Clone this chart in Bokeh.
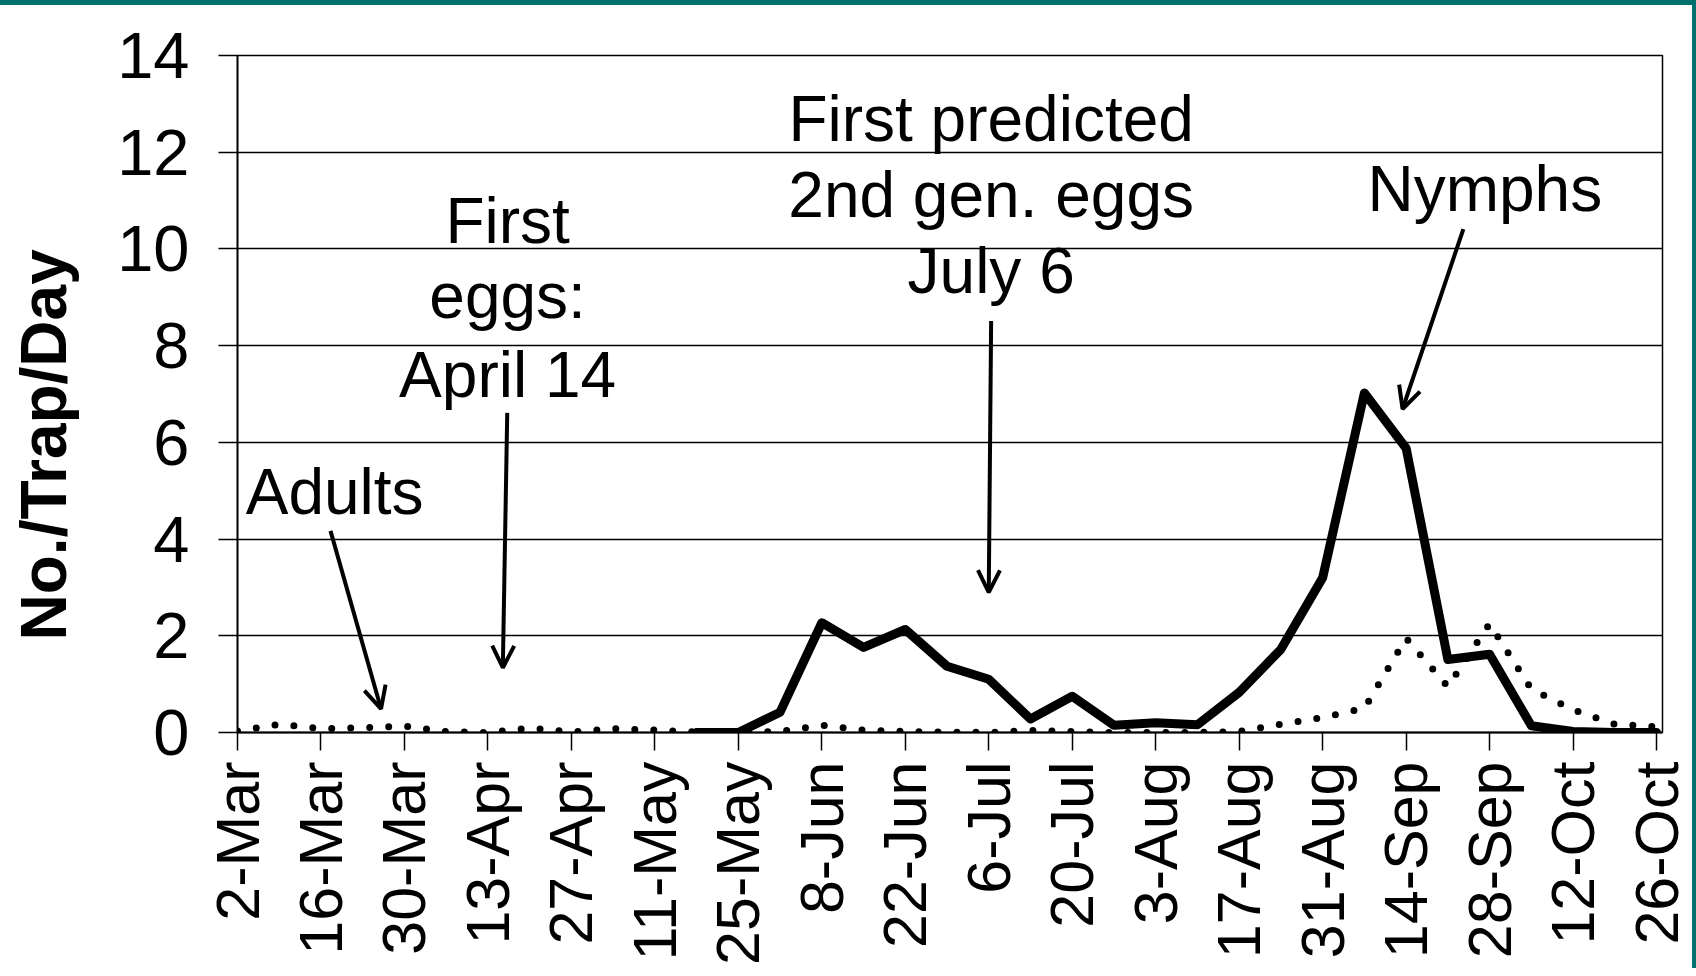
import math
from datetime import datetime
from bokeh.plotting import figure
from bokeh.models import (FixedTicker, Label, Arrow, OpenHead, Range1d,
                          ColumnDataSource, Div)
from bokeh.layouts import column, row
from bokeh.embed import file_html
from bokeh.resources import INLINE

YEAR = 2023
FONT = "Liberation Sans"
TEAL = "#00706F"

# ---- data ----
sample_dates = ["2-Mar", "9-Mar", "16-Mar", "23-Mar", "30-Mar",
                "6-Apr", "13-Apr", "20-Apr", "27-Apr",
                "4-May", "11-May", "18-May", "25-May",
                "1-Jun", "8-Jun", "15-Jun", "22-Jun", "29-Jun",
                "6-Jul", "13-Jul", "20-Jul", "27-Jul",
                "3-Aug", "10-Aug", "17-Aug", "24-Aug", "31-Aug",
                "7-Sep", "14-Sep", "21-Sep", "28-Sep",
                "5-Oct", "12-Oct", "19-Oct", "26-Oct"]

adults = [0.03, 0.17, 0.08, 0.10, 0.13,
          0.02, 0.00, 0.09, 0.01,
          0.08, 0.05, 0.01, 0.00,
          0.02, 0.15, 0.05, 0.02, 0.01,
          0.00, 0.04, 0.02, 0.00,
          0.00, 0.00, 0.02, 0.17, 0.31,
          0.50, 1.95, 0.95, 2.25,
          0.90, 0.47, 0.17, 0.12]

nan = float("nan")
nymphs = [nan, nan, nan, nan, nan,
          nan, nan, nan, nan,
          nan, nan, 0.00, 0.00,
          0.42, 2.27, 1.76, 2.13, 1.37,
          1.10, 0.28, 0.75, 0.15,
          0.20, 0.16, 0.83, 1.72, 3.20,
          7.02, 5.88, 1.51, 1.62,
          0.14, 0.02, 0.00, 0.00]

tick_labels = ["2-Mar", "16-Mar", "30-Mar", "13-Apr", "27-Apr", "11-May",
               "25-May", "8-Jun", "22-Jun", "6-Jul", "20-Jul", "3-Aug",
               "17-Aug", "31-Aug", "14-Sep", "28-Sep", "12-Oct", "26-Oct"]

y_ticks = [0, 2, 4, 6, 8, 10, 12, 14]
y_title = "No./Trap/Day"


def day_of_season(s):
    d = datetime.strptime(f"{s}-{YEAR}", "%d-%b-%Y")
    d0 = datetime.strptime(f"{sample_dates[0]}-{YEAR}", "%d-%b-%Y")
    return float((d - d0).days)


xs = [day_of_season(s) for s in sample_dates]
tick_pos = [day_of_season(s) for s in tick_labels]

src = ColumnDataSource(dict(x=xs, adults=adults, nymphs=nymphs))

p = figure(frame_width=1425, frame_height=677,
           min_border_left=237, min_border_right=30,
           min_border_top=50, min_border_bottom=236,
           x_range=Range1d(0, tick_pos[-1] + 1), y_range=Range1d(0, 14),
           output_backend="svg", toolbar_location=None,
           background_fill_color="white", border_fill_color="white")

p.outline_line_color = "black"
p.outline_line_width = 1.5

# grid
p.xgrid.visible = False
p.ygrid.ticker = FixedTicker(ticks=y_ticks)
p.ygrid.grid_line_color = "black"
p.ygrid.grid_line_width = 1.5

# y axis
p.yaxis.ticker = FixedTicker(ticks=y_ticks)
p.yaxis.major_label_text_font = FONT
p.yaxis.major_label_text_font_size = "65px"
p.yaxis.major_label_text_color = "black"
p.yaxis.major_tick_out = 19
p.yaxis.major_tick_in = 0
p.yaxis.major_tick_line_width = 1.5
p.yaxis.minor_tick_line_color = None
p.yaxis.axis_line_width = 1.7
p.yaxis.major_label_standoff = 29
# label sits lower than the frame centre in the reference: pad its far end
p.yaxis.axis_label = y_title + "\u00a0" * 5 + "\u2009"
p.yaxis.axis_label_text_font = FONT
p.yaxis.axis_label_text_font_style = "bold"
p.yaxis.axis_label_text_font_size = "64px"
p.yaxis.axis_label_text_color = "black"
p.yaxis.axis_label_standoff = 34

# x axis
p.xaxis.ticker = FixedTicker(ticks=tick_pos)
p.xaxis.major_label_overrides = {t: l for t, l in zip(tick_pos, tick_labels)}
p.xaxis.major_label_orientation = math.pi / 2
p.xaxis.major_label_text_font = FONT
p.xaxis.major_label_text_font_size = "61px"
p.xaxis.major_label_text_color = "black"
p.xaxis.major_tick_out = 18
p.xaxis.major_tick_in = 0
p.xaxis.major_tick_line_width = 1.5
p.xaxis.minor_tick_line_color = None
p.xaxis.axis_line_width = 2
p.xaxis.major_label_standoff = 11

# series
p.line("x", "adults", source=src, line_color="black", line_width=7,
       line_dash="0 19", line_cap="round")
p.line("x", "nymphs", source=src, line_color="black", line_width=9,
       line_join="round", line_cap="round")


# annotations
def add_text(x, y, t):
    p.add_layout(Label(x=x, y=y, text=t, text_font=FONT, text_font_size="64px",
                       text_align="center", text_baseline="alphabetic",
                       text_color="black"))


def add_arrow(x0, y0, x1, y1):
    p.add_layout(Arrow(end=OpenHead(size=22, line_width=4, line_color="black"),
                       x_start=x0, y_start=y0, x_end=x1, y_end=y1,
                       line_width=4, line_color="black"))


add_text(16.3, 4.97, "Adults")
add_arrow(15.6, 4.17, 24.07, 0.49)

add_text(45.3, 10.58, "First")
add_text(45.3, 9.02, "eggs:")
add_text(45.3, 7.40, "April 14")
add_arrow(45.24, 6.61, 44.5, 1.34)

add_text(126.4, 12.68, "First predicted")
add_text(126.4, 11.12, "2nd gen. eggs")
add_text(126.4, 9.54, "July 6")
add_arrow(126.4, 8.51, 126.0, 2.9)

add_text(209.2, 11.24, "Nymphs")
add_arrow(205.6, 10.41, 195.4, 6.69)

top_bar = Div(width=1696, height=5, margin=0, styles={"background-color": TEAL})
right_bar = Div(width=4, height=963, margin=0, styles={"background-color": TEAL})
layout = column(top_bar, row(p, right_bar, spacing=0), spacing=0)

open("out.html", "w").write(file_html(layout, INLINE))
